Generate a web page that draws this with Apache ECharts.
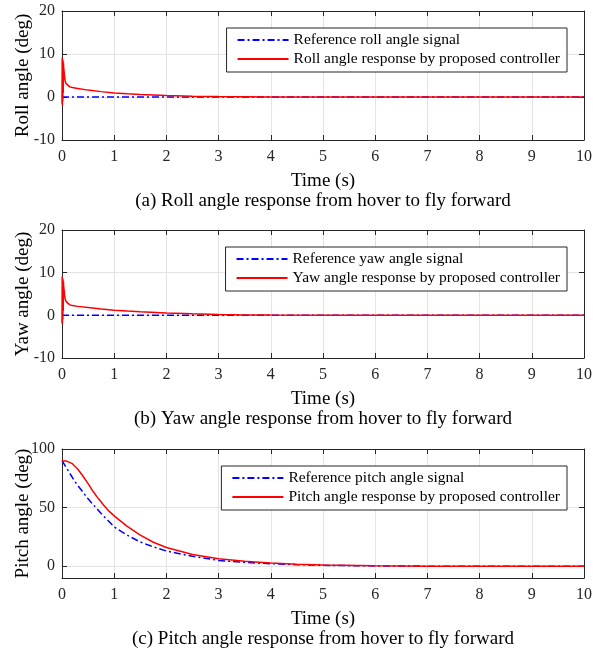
<!DOCTYPE html>
<html>
<head>
<meta charset="utf-8">
<script src="https://cdn.jsdelivr.net/npm/echarts@6/dist/echarts.min.js"></script>
<style>
html,body{margin:0;padding:0;background:#fff;}
#chart{width:593px;height:653px;}
</style>
</head>
<body>
<div id="chart"></div>
<script>
// ---- data ----
const refTime = [0, 10];
const rollRef = [0, 0];
const yawRef = [0, 0];

const rollTime = [0, 0.004, 0.008, 0.012, 0.016, 0.02, 0.024, 0.028, 0.032, 0.04, 0.05, 0.06, 0.08, 0.1, 0.15, 0.2, 0.3, 0.5, 0.75, 1, 1.25, 1.5, 2, 2.5, 3, 3.5, 4, 5, 6, 7, 8, 9, 10];
const rollResp = [-1.5, 9.2, -2, 8.8, -1, 8.5, 1, 8, 6.8, 6, 4.6, 3.8, 3.1, 2.7, 2.35, 2.2, 2.0, 1.6, 1.25, 0.95, 0.75, 0.6, 0.32, 0.18, 0.1, 0.05, 0.02, 0.01, 0, 0, 0, 0, 0];

const yawTime = [0, 0.004, 0.008, 0.012, 0.016, 0.02, 0.024, 0.028, 0.032, 0.04, 0.05, 0.06, 0.08, 0.1, 0.15, 0.2, 0.3, 0.5, 0.75, 1, 1.25, 1.5, 2, 2.5, 3, 3.5, 4, 5, 6, 7, 8, 9, 10];
const yawResp = [-1.8, 9.1, -2.1, 8.7, -1, 8.4, 1, 7.9, 6.8, 6, 4.7, 3.9, 3.2, 2.8, 2.45, 2.3, 2.1, 1.85, 1.5, 1.2, 1.0, 0.82, 0.55, 0.35, 0.2, 0.1, 0.05, 0.02, 0.01, 0, 0, 0, 0];

const pitchRefTime = [0, 0.25, 0.5, 0.75, 1, 1.25, 1.5, 1.75, 2, 2.5, 3, 3.5, 4, 4.5, 5, 6, 7, 8, 9, 10];
const pitchRef = [90, 72, 57.5, 45, 33.5, 26.5, 20.7, 16.5, 13, 8.5, 5, 3.3, 2.2, 1.4, 0.8, 0.3, 0.1, 0, 0, 0];

const pitchRespTime = [0, 0.1, 0.2, 0.3, 0.4, 0.5, 0.6, 0.7, 0.8, 0.9, 1, 1.1, 1.25, 1.5, 1.75, 2, 2.5, 3, 3.5, 4, 4.5, 5, 6, 7, 8, 9, 10];
const pitchResp = [90, 89.5, 87.5, 83, 77, 70.5, 63.5, 57.5, 52, 47, 43, 39.3, 34, 26.5, 20.5, 16, 10, 6.5, 4.2, 2.7, 1.7, 1, 0.35, 0.1, 0, 0, 0];

const xTickMin = 0, xTickMax = 10, xTickStep = 1;
const angleTicks = [-10, 0, 10, 20];
const pitchTicks = [0, 50, 100];

const panels = [
  {yName: 'Roll angle (deg)', refName: 'Reference roll angle signal', respName: 'Roll angle response by proposed controller',
   caption: '(a) Roll angle response from hover to fly forward'},
  {yName: 'Yaw angle (deg)', refName: 'Reference yaw angle signal', respName: 'Yaw angle response by proposed controller',
   caption: '(b) Yaw angle response from hover to fly forward'},
  {yName: 'Pitch angle (deg)', refName: 'Reference pitch angle signal', respName: 'Pitch angle response by proposed controller',
   caption: '(c) Pitch angle response from hover to fly forward'}
];

function zip(t, v) { return t.map((x, i) => [x, v[i]]); }
const seriesData = [
  [zip(refTime, rollRef), zip(rollTime, rollResp)],
  [zip(refTime, yawRef), zip(yawTime, yawResp)],
  [zip(pitchRefTime, pitchRef), zip(pitchRespTime, pitchResp)]
];

// ---- layout ----
const FONT = 'Liberation Serif';
const AX = '#262626';
const GRIDC = '#e3e3e3';
const plotLeft = 62, plotW = 522;
const gridTops = [11, 230, 449];
const gridHs = [129, 128, 129];
const plotCenter = plotLeft + plotW / 2;

const grids = [], xAxes = [], yAxes = [], series = [], legends = [], graphics = [];

panels.forEach((p, i) => {
  grids.push({left: plotLeft, top: gridTops[i], width: plotW, height: gridHs[i], containLabel: false, outerBoundsMode: 'none'});
  const isPitch = i === 2;
  const yRange = isPitch ? {min: -10, max: 100} : {min: -10, max: 20, interval: 10};
  const yCustom = isPitch ? pitchTicks : null;

  xAxes.push({
    type: 'value', gridIndex: i, position: 'bottom', min: xTickMin, max: xTickMax, interval: xTickStep,
    name: 'Time (s)', nameLocation: 'middle', nameGap: 32, nameMoveOverlap: false,
    nameTextStyle: {fontFamily: FONT, fontSize: 19, color: '#000'},
    axisLine: {show: true, onZero: false, lineStyle: {color: AX, width: 1}},
    axisTick: {show: true, inside: true, length: 5, lineStyle: {color: AX}},
    axisLabel: {show: true, margin: 9, fontFamily: FONT, fontSize: 16, color: AX},
    splitLine: {show: true, lineStyle: {color: GRIDC, width: 1}}
  });
  xAxes.push({
    type: 'value', gridIndex: i, position: 'top', min: xTickMin, max: xTickMax, interval: xTickStep,
    axisLine: {show: true, onZero: false, lineStyle: {color: AX, width: 1}},
    axisTick: {show: true, inside: true, length: 5, lineStyle: {color: AX}},
    axisLabel: {show: false}, splitLine: {show: false}
  });

  const yLabel = {show: true, margin: 7, fontFamily: FONT, fontSize: 16, color: AX};
  const yTick = {show: true, inside: true, length: 5, lineStyle: {color: AX}};
  if (yCustom) { yLabel.customValues = yCustom; yTick.customValues = yCustom; }
  yAxes.push(Object.assign({
    type: 'value', gridIndex: i, position: 'left',
    name: p.yName, nameLocation: 'middle', nameGap: 29, nameRotate: 90, nameMoveOverlap: false,
    nameTextStyle: {fontFamily: FONT, fontSize: 19, color: '#000'},
    axisLine: {show: true, onZero: false, lineStyle: {color: AX, width: 1}},
    axisTick: yTick, axisLabel: yLabel,
    splitLine: {show: true, lineStyle: {color: GRIDC, width: 1}}
  }, yRange));
  const yTick2 = {show: true, inside: true, length: 5, lineStyle: {color: AX}};
  if (yCustom) yTick2.customValues = yCustom;
  yAxes.push(Object.assign({
    type: 'value', gridIndex: i, position: 'right',
    axisLine: {show: true, onZero: false, lineStyle: {color: AX, width: 1}},
    axisTick: yTick2, axisLabel: {show: false}, splitLine: {show: false}
  }, yRange));

  series.push({
    type: 'line', name: p.refName, xAxisIndex: 2 * i, yAxisIndex: 2 * i,
    data: seriesData[i][0], symbol: 'none', smooth: false, z: 2,
    lineStyle: {color: '#0000ff', width: 1.5, type: [7, 3, 2, 3]},
    itemStyle: {color: '#0000ff'}
  });
  series.push({
    type: 'line', name: p.respName, xAxisIndex: 2 * i, yAxisIndex: 2 * i,
    data: seriesData[i][1], symbol: 'none', smooth: false, z: 3,
    lineStyle: {color: '#ff0000', width: 1.5},
    itemStyle: {color: '#ff0000'}
  });

  legends.push({
    data: [p.refName, p.respName], orient: 'vertical',
    right: 26, top: gridTops[i] + 17,
    itemWidth: 51, itemHeight: 14, itemGap: 3,
    padding: [4, 7, 5, 10],
    itemStyle: {opacity: 0},
    borderColor: AX, borderWidth: 1, backgroundColor: '#fff',
    textStyle: {fontFamily: FONT, fontSize: 15.5, color: '#000'},
    selectedMode: false, z: 10
  });

  graphics.push({
    type: 'text', x: plotCenter, y: gridTops[i] + gridHs[i] + 61,
    style: {text: p.caption, fontFamily: FONT, fontSize: 19, fill: '#000', textAlign: 'center', textVerticalAlign: 'middle'}
  });
});

const chart = echarts.init(document.getElementById('chart'), null, {renderer: 'canvas'});
chart.setOption({
  animation: false,
  backgroundColor: '#fff',
  grid: grids, xAxis: xAxes, yAxis: yAxes, series: series, legend: legends,
  graphic: graphics
});
</script>
</body>
</html>
